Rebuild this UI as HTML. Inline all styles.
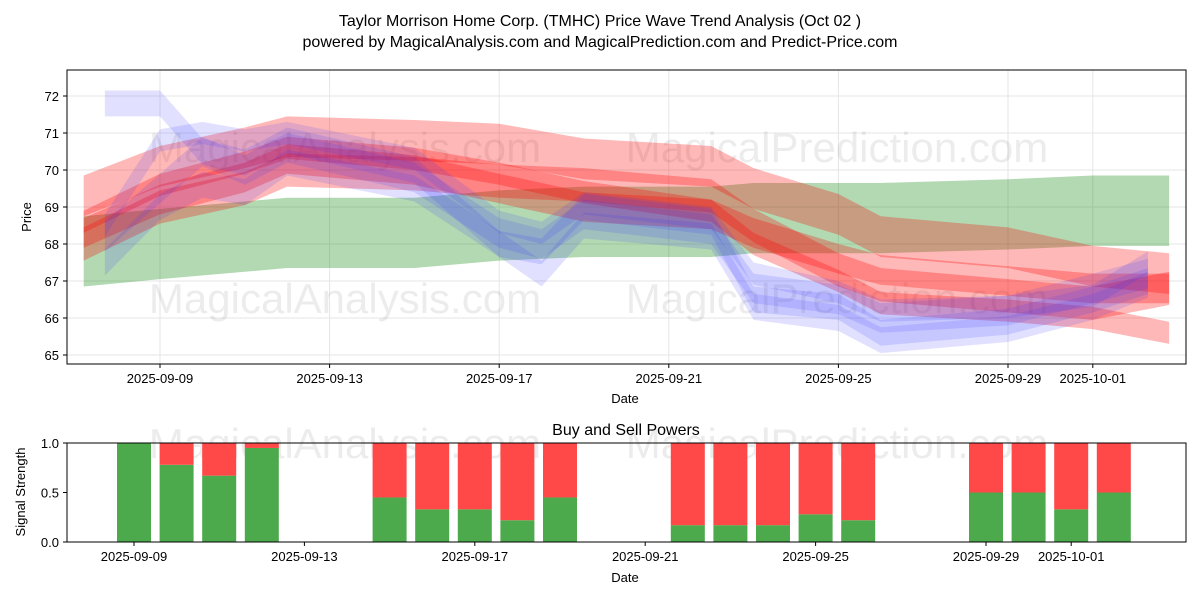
<!DOCTYPE html>
<html><head><meta charset="utf-8"><style>
body{margin:0;background:#fff}
svg text{font-family:"Liberation Sans","DejaVu Sans",sans-serif;fill:#000}
</style></head><body>
<svg id="chart" width="1200" height="600" viewBox="0 0 1200 600">
<defs><clipPath id="plotClip"><rect x="67" y="70" width="1119" height="294"/></clipPath></defs>
<text x="600" y="26" font-size="16" text-anchor="middle">Taylor Morrison Home Corp. (TMHC) Price Wave Trend Analysis (Oct 02 )</text>
<text x="600" y="47" font-size="16" text-anchor="middle">powered by MagicalAnalysis.com and MagicalPrediction.com and Predict-Price.com</text>
<g id="topPanel"></g>
<g id="botPanel"></g>
</svg>
<script>
const waveDays=[-1.8,0,2,3,6,8,10,13,14,16,17,20,22,23.8];
const greenWave=[67.8,68.0,68.2,68.3,68.3,68.5,68.6,68.6,68.7,68.7,68.7,68.8,68.9,68.9];
const greenHalf=0.95;
const redWaves=[
[69.3,70.1,70.6,70.9,70.8,70.7,70.3,70.1,69.5,68.8,68.2,67.9,67.4,67.2],
[68.3,69.2,69.8,70.3,70.0,69.5,69.0,68.8,68.3,67.6,67.3,67.0,66.8,66.8],
[68.6,69.6,70.2,70.6,70.3,69.9,69.4,68.9,68.0,67.0,66.4,66.2,66.0,65.6],
[68.0,69.0,69.5,70.0,69.9,69.7,69.6,69.3,68.5,67.3,66.9,66.6,66.4,66.8]];
const redHalf=[0.55,0.4,0.3,0.45];
const blueDays=[-1.3,0,1,2,3,6,8,9,10,13,14,16,17,20,22,23.3];
const blueWaves=[
[71.8,71.8,70.5,70.2,70.8,70.0,68.0,67.8,69.0,68.6,66.5,66.3,65.6,65.9,66.5,67.0],
[68.2,69.5,70.5,70.0,70.6,69.8,68.3,68.0,68.8,68.4,66.8,66.5,66.0,66.2,66.8,67.2],
[68.5,70.8,71.0,70.8,71.0,70.3,68.6,68.3,69.1,68.7,67.2,66.7,66.2,66.3,66.6,67.5],
[67.5,69.0,69.6,69.4,70.2,69.5,68.0,67.2,68.5,68.2,66.3,66.0,65.4,65.7,66.3,66.9]];
const blueHalf=[0.35,0.4,0.3,0.35];
const priceTicks=[65,66,67,68,69,70,71,72];
const dateTickDays=[0,4,8,12,16,20,22];
const dateTickLabels=["2025-09-09","2025-09-13","2025-09-17","2025-09-21","2025-09-25","2025-09-29","2025-10-01"];
const barDays=[0,1,2,3,6,7,8,9,10,13,14,15,16,17,20,21,22,23];
const buyValues=[1.0,0.78,0.67,0.95,0.45,0.33,0.33,0.22,0.45,0.17,0.17,0.17,0.28,0.22,0.5,0.5,0.33,0.5];
const signalTicks=[0,0.5,1.0];

const NS="http://www.w3.org/2000/svg";
function mk(tag,attrs,parent){const e=document.createElementNS(NS,tag);for(const k in attrs)e.setAttribute(k,attrs[k]);parent.appendChild(e);return e;}
const topG=document.getElementById('topPanel'),botG=document.getElementById('botPanel');
const T={l:67,r:1186,t:70,b:364};
const xT=d=>160+d*42.4, yT=v=>96+(72-v)*37;
const B={l:67,r:1186,t:443,b:542};
const xB=d=>134+d*42.6, yB=v=>542-v*99;

priceTicks.forEach(v=>{const g=mk('line',{x1:T.l,x2:T.r,y1:yT(v),y2:yT(v),stroke:'#e6e6e6'},topG);

});
dateTickDays.forEach(d=>{const g=mk('line',{x1:xT(d),x2:xT(d),y1:T.t,y2:T.b,stroke:'#e6e6e6'},topG);

});
[[345,162,'MagicalAnalysis.com'],[837,162,'MagicalPrediction.com'],[345,313,'MagicalAnalysis.com'],[837,313,'MagicalPrediction.com']].forEach(w=>{
const t=mk('text',{x:w[0],y:w[1],'font-size':42,'text-anchor':'middle',style:'fill:#000;opacity:0.07'},topG);t.textContent=w[2];

});
const bandG=mk('g',{'clip-path':'url(#plotClip)'},topG);


function band(days,vals,hw,fill,op,name){
let up=days.map((d,i)=>xT(d)+','+yT(vals[i]+hw));
let lo=days.map((d,i)=>xT(d)+','+yT(vals[i]-hw)).reverse();
const p=mk('polygon',{points:up.concat(lo).join(' '),fill:fill,'fill-opacity':op},bandG);

}
band(waveDays,greenWave,greenHalf,'#008000',0.3,'green-wave-band');
redWaves.forEach((w,i)=>band(waveDays,w,redHalf[i],'#ff0000',0.28,'red-wave-band'));
blueWaves.forEach((w,i)=>band(blueDays,w,blueHalf[i],'#3333ff',0.15,'blue-wave-band'));
mk('rect',{x:T.l,y:T.t,width:T.r-T.l,height:T.b-T.t,fill:'none',stroke:'#000'},topG);
priceTicks.forEach(v=>{mk('line',{x1:T.l-4,x2:T.l,y1:yT(v),y2:yT(v),stroke:'#000'},topG);
const t=mk('text',{x:T.l-8,y:yT(v)+5,'font-size':13,'text-anchor':'end'},topG);t.textContent=v;

});
dateTickDays.forEach((d,i)=>{mk('line',{x1:xT(d),x2:xT(d),y1:T.b,y2:T.b+4,stroke:'#000'},topG);
const t=mk('text',{x:xT(d),y:T.b+19,'font-size':13,'text-anchor':'middle'},topG);t.textContent=dateTickLabels[i];

});
let t1=mk('text',{x:625,y:403,'font-size':13,'text-anchor':'middle'},topG);t1.textContent='Date';


let t2=mk('text',{x:31,y:217,'font-size':13,'text-anchor':'middle',transform:'rotate(-90 31 217)'},topG);t2.textContent='Price';



[[345,458,'MagicalAnalysis.com'],[837,458,'MagicalPrediction.com']].forEach(w=>{
const t=mk('text',{x:w[0],y:w[1],'font-size':42,'text-anchor':'middle',style:'fill:#000;opacity:0.07'},botG);t.textContent=w[2];

});
barDays.forEach((d,i)=>{const v=buyValues[i];
const g=mk('rect',{x:xB(d)-17,y:yB(v),width:34,height:yB(0)-yB(v),fill:'#4caa4c'},botG);


const r=mk('rect',{x:xB(d)-17,y:yB(1),width:34,height:yB(v)-yB(1),fill:'#ff4848'},botG);

});
mk('rect',{x:B.l,y:B.t,width:B.r-B.l,height:B.b-B.t,fill:'none',stroke:'#000'},botG);
signalTicks.forEach(v=>{mk('line',{x1:B.l-4,x2:B.l,y1:yB(v),y2:yB(v),stroke:'#000'},botG);
const t=mk('text',{x:B.l-8,y:yB(v)+5,'font-size':13,'text-anchor':'end'},botG);t.textContent=v.toFixed(1);

});
dateTickDays.forEach((d,i)=>{mk('line',{x1:xB(d),x2:xB(d),y1:B.b,y2:B.b+4,stroke:'#000'},botG);
const t=mk('text',{x:xB(d),y:B.b+19,'font-size':13,'text-anchor':'middle'},botG);t.textContent=dateTickLabels[i];

});
let t3=mk('text',{x:626,y:435,'font-size':16,'text-anchor':'middle'},botG);t3.textContent='Buy and Sell Powers';


let t4=mk('text',{x:625,y:582,'font-size':13,'text-anchor':'middle'},botG);t4.textContent='Date';


let t5=mk('text',{x:25,y:492,'font-size':13,'text-anchor':'middle',transform:'rotate(-90 25 492)'},botG);t5.textContent='Signal Strength';


</script>
</body></html>
